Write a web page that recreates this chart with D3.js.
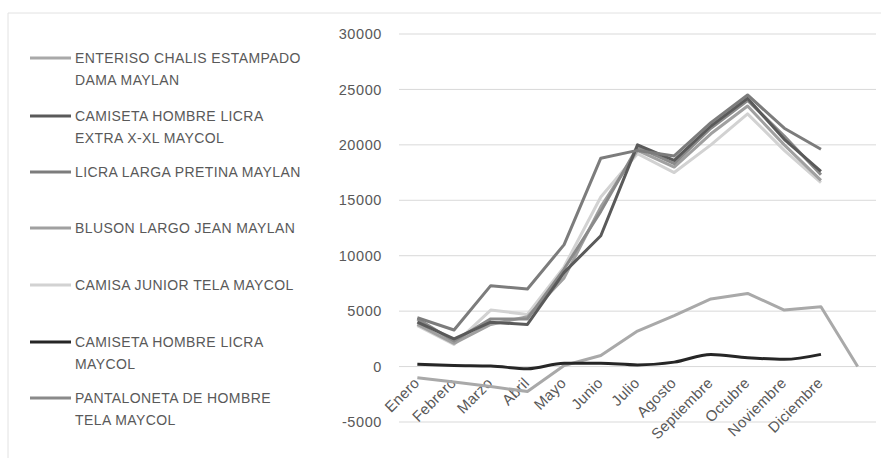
<!DOCTYPE html>
<html>
<head>
<meta charset="utf-8">
<script src="https://cdn.jsdelivr.net/npm/d3@7"></script>
<style>
  body { margin: 0; background: #fff; }
  text { font-family: "Liberation Sans", Arial, sans-serif; fill: #595959; }
</style>
</head>
<body>
<div id="chart"></div>
<script>
// months, plus an empty 13th slot where one series drops to 0
const months = ["Enero", "Febrero", "Marzo", "Abril", "Mayo", "Junio", "Julio",
  "Agosto", "Septiembre", "Octubre", "Noviembre", "Diciembre", ""];
const yTicks = [-5000, 0, 5000, 10000, 15000, 20000, 25000, 30000];

const seriesNames = [
  ["ENTERISO CHALIS ESTAMPADO", "DAMA MAYLAN"],
  ["CAMISETA HOMBRE LICRA", "EXTRA X-XL MAYCOL"],
  ["LICRA LARGA PRETINA MAYLAN"],
  ["BLUSON LARGO JEAN MAYLAN"],
  ["CAMISA JUNIOR TELA MAYCOL"],
  ["CAMISETA HOMBRE LICRA", "MAYCOL"],
  ["PANTALONETA DE HOMBRE", "TELA MAYCOL"]
];
const seriesColors = ["#a9a9a9", "#5a5a5a", "#7c7c7c", "#a0a0a0", "#d2d2d2", "#262626", "#8a8a8a"];

const enteriso    = [-1000, -1400, -1800, -2250, 100, 1000, 3200, 4600, 6100, 6600, 5100, 5400, 0];
const camExtra    = [4000, 2500, 4000, 3800, 8500, 11800, 20000, 18600, 21700, 24200, 20500, 17600, null];
const licra       = [4400, 3300, 7300, 7000, 11000, 18800, 19500, 19000, 22000, 24500, 21500, 19600, null];
const bluson      = [3800, 2100, 3800, 4500, 8000, 14400, 19500, 18000, 21000, 23500, 20000, 16800, null];
const camisa      = [3700, 2000, 5100, 4700, 9000, 15300, 19200, 17500, 20000, 22800, 19500, 16600, null];
const camMaycol   = [200, 100, 50, -200, 300, 300, 150, 400, 1100, 800, 650, 1100, null];
const pantaloneta = [4300, 2300, 4300, 4300, 8800, 14000, 19800, 18300, 21500, 24000, 20800, 17300, null];

const seriesValues = [enteriso, camExtra, licra, bluson, camisa, camMaycol, pantaloneta];

const W = 881, H = 458;
const svg = d3.select("#chart").append("svg").attr("width", W).attr("height", H);

// faint frame of the original chart area
svg.append("line").attr("x1", 8).attr("x2", W).attr("y1", 13).attr("y2", 13)
  .attr("stroke", "#e2e2e2");
svg.append("line").attr("x1", 8).attr("x2", 8).attr("y1", 13).attr("y2", H)
  .attr("stroke", "#e2e2e2");

const x = d3.scaleBand().domain(d3.range(months.length)).range([399, 876]);
const y = d3.scaleLinear().domain([-5000, 30000]).range([422, 34]);

// gridlines
svg.append("g").selectAll("line").data(yTicks).enter().append("line")
  .attr("x1", 399).attr("x2", 876)
  .attr("y1", d => y(d)).attr("y2", d => y(d))
  .attr("stroke", "#d9d9d9").attr("stroke-width", 1);

// y axis labels (plain hyphen for negatives, like the original)
const yAxis = d3.axisLeft(y).tickValues(yTicks).tickSize(0).tickPadding(0)
  .tickFormat(d => String(d));
const yg = svg.append("g").attr("transform", "translate(382,0)").call(yAxis);
yg.select(".domain").remove();
yg.selectAll("text").style("font-size", "14.5px").style("letter-spacing", "0.6px").attr("fill", "#595959");

// x axis labels, rotated
svg.append("g").selectAll("text").data(months).enter().append("text")
  .attr("transform", (d, i) => `translate(${x(i) + x.bandwidth() / 2 + 3},384) rotate(-45)`)
  .attr("text-anchor", "end")
  .style("font-size", "15px")
  .style("letter-spacing", "0.3px")
  .text(d => d);

// lines
const line = d3.line()
  .defined(d => d != null)
  .x((d, i) => x(i) + x.bandwidth() / 2)
  .y(d => y(d));

const drawOrder = [0, 5, 4, 3, 6, 1, 2];
drawOrder.forEach(s => {
  svg.append("path")
    .datum(seriesValues[s])
    .attr("fill", "none")
    .attr("stroke", seriesColors[s])
    .attr("stroke-width", 3)
    .attr("stroke-linejoin", "round")
    .attr("d", s === 5 ? line.curve(d3.curveMonotoneX)(seriesValues[s]) : line.curve(d3.curveLinear)(seriesValues[s]));
});

// legend
const legendY = [58, 116, 172, 228, 285, 342, 398];
const lg = svg.append("g");
seriesNames.forEach((lines, i) => {
  lg.append("line")
    .attr("x1", 30).attr("x2", 71)
    .attr("y1", legendY[i]).attr("y2", legendY[i])
    .attr("stroke", seriesColors[i]).attr("stroke-width", 3);
  const t = lg.append("text")
    .attr("x", 75).attr("y", legendY[i] + 5)
    .style("font-size", "14px")
    .style("letter-spacing", "0.4px");
  lines.forEach((l, j) => {
    t.append("tspan").attr("x", 75).attr("dy", j === 0 ? 0 : 21.5).text(l);
  });
});
</script>
</body>
</html>
